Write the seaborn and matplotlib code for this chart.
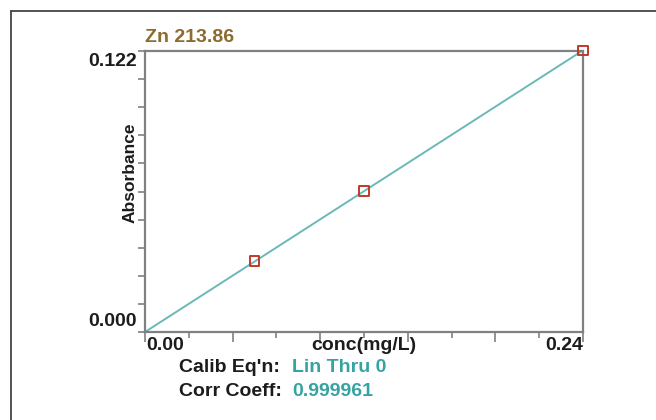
import matplotlib
matplotlib.use("Agg")
import matplotlib.pyplot as plt
from matplotlib.lines import Line2D
from matplotlib.ticker import MultipleLocator
import numpy as np
import pandas as pd
import seaborn as sns

# calibration standards
conc = [0.06, 0.12, 0.24]
absorbance = [0.0308, 0.0612, 0.1222]
title = "Zn 213.86"
calib_eqn = "Lin Thru 0"
corr_coeff = "0.999961"

sns.set_style("white")
plt.rcParams['font.family'] = ['Liberation Sans', 'DejaVu Sans']
plt.rcParams['font.weight'] = 'bold'

W, H = 656, 420
fig = plt.figure(figsize=(W / 100, H / 100), dpi=100)

def fx(px):
    return px / W

def fy(py):
    return 1 - py / H

# outer frame (left and top edges only)
fig.add_artist(Line2D([fx(10.5), fx(10.5)], [fy(11), 0], color='#444444', lw=1.3))
fig.add_artist(Line2D([fx(10.5), 1], [fy(11), fy(11)], color='#444444', lw=1.3))

ax = fig.add_axes([fx(145), fy(332), (583 - 145) / W, (332 - 51) / H])

df = pd.DataFrame({'conc': conc, 'abs': absorbance})
# least squares line through the origin
slope = np.sum(df['conc'] * df['abs']) / np.sum(df['conc'] ** 2)
fit = pd.DataFrame({'conc': [0.0, 0.24]})
fit['abs'] = slope * fit['conc']

teal_line = '#6cb8b8'
teal_text = '#35a3a3'
red = '#c0392b'
gray = '#808080'
dark = '#1c1c1c'

sns.lineplot(data=fit, x='conc', y='abs', ax=ax, color=teal_line, lw=1.4)
sns.scatterplot(data=df, x='conc', y='abs', ax=ax, marker='s', s=45,
                facecolor='none', edgecolor=red, linewidth=1.4, zorder=5, clip_on=False)

ax.set_xlim(0, 0.24)
ax.set_ylim(0, 0.122)
for sp in ax.spines.values():
    sp.set_color(gray)
    sp.set_linewidth(1.6)

ax.xaxis.set_major_locator(MultipleLocator(0.048))
ax.xaxis.set_minor_locator(MultipleLocator(0.024))
ax.set_xticklabels([])
ax.yaxis.set_major_locator(MultipleLocator(0.0122))
ax.set_yticklabels([])
ax.tick_params(axis='x', which='major', direction='out', length=7, width=1.2, color=gray, bottom=True)
ax.tick_params(axis='x', which='minor', direction='out', length=4, width=1.2, color=gray, bottom=True)
ax.tick_params(axis='y', which='major', direction='out', length=5, width=1.2, color=gray, left=True)
ax.set_xlabel('')
ax.set_ylabel('')

fs = 14
fig.text(fx(145), fy(37), title, color='#8b6b2e', fontsize=fs, weight='bold', va='center', ha='left')
fig.text(fx(137), fy(62), "0.122", color=dark, fontsize=fs, weight='bold', va='center', ha='right')
fig.text(fx(137), fy(322), "0.000", color=dark, fontsize=fs, weight='bold', va='center', ha='right')
fig.text(fx(146), fy(346), "0.00", color=dark, fontsize=fs, weight='bold', va='center', ha='left')
fig.text(fx(583), fy(346), "0.24", color=dark, fontsize=fs, weight='bold', va='center', ha='right')
fig.text(fx(364), fy(346), "conc(mg/L)", color=dark, fontsize=fs, weight='bold', va='center', ha='center')
fig.text(fx(130), fy(173), "Absorbance", color=dark, fontsize=12.5, weight='bold', va='center',
         ha='center', rotation=90)

fig.text(fx(179), fy(368), "Calib Eq'n:", color=dark, fontsize=fs, weight='bold', va='center', ha='left')
fig.text(fx(292), fy(368), calib_eqn, color=teal_text, fontsize=fs, weight='bold', va='center', ha='left')
fig.text(fx(179), fy(391), "Corr Coeff:", color=dark, fontsize=fs, weight='bold', va='center', ha='left')
fig.text(fx(292), fy(391), corr_coeff, color=teal_text, fontsize=fs, weight='bold', va='center', ha='left')

fig.savefig('out.png', dpi=100)
